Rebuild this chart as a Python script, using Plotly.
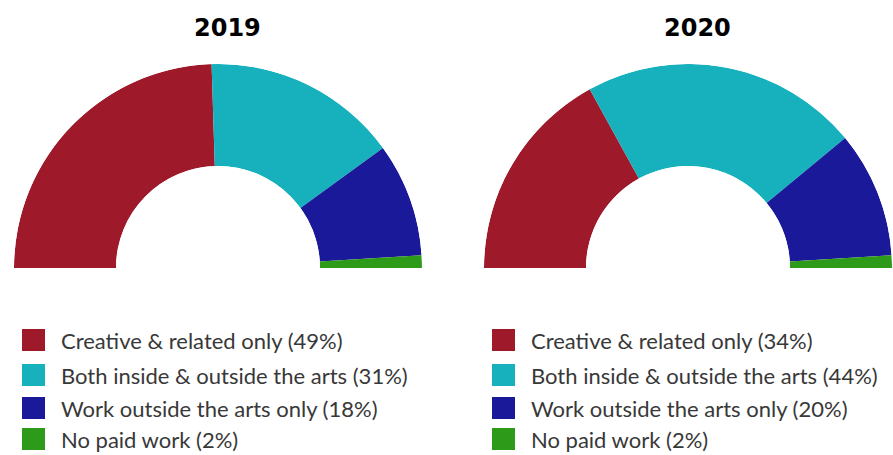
import plotly.graph_objects as go

# Share of respondents by type of paid work
categories = [
    "Creative & related only",
    "Both inside & outside the arts",
    "Work outside the arts only",
    "No paid work",
]
years = ["2019", "2020"]
shares_2019 = [49, 31, 18, 2]
shares_2020 = [34, 44, 20, 2]
colors = ["#9e1a2b", "#17b0bd", "#1a199a", "#2e9a1a"]

W, H = 893, 455
series = [shares_2019, shares_2020]

# half-donut placement (pixels): left edge, right edge, top, baseline
arc_boxes = [(13, 423, 64, 268), (483, 893, 64, 268)]
legend_left = [22, 492]
row_centers = [340, 375, 408, 439]

fig = go.Figure()
layout_polars = {}
annotations = []
shapes = []

for i, (year, vals) in enumerate(zip(years, series)):
    pid = "polar" if i == 0 else f"polar{i + 1}"
    total = sum(vals)
    start = 0.0
    for cat, v, col in zip(categories, vals, colors):
        span = 180.0 * v / total
        fig.add_trace(go.Barpolar(
            r=[1], theta=[start + span / 2], width=[span],
            marker=dict(color=col, line=dict(width=0)),
            name=cat, showlegend=False, subplot=pid,
            hovertemplate=f"{year}<br>{cat}: {v}%<extra></extra>",
        ))
        start += span

    x0, x1, y0, y1 = arc_boxes[i]
    layout_polars[pid] = dict(
        domain=dict(x=[x0 / W, x1 / W], y=[1 - y1 / H, 1 - y0 / H]),
        sector=[0, 180],
        hole=0.5,
        bgcolor="rgba(0,0,0,0)",
        radialaxis=dict(range=[0, 1], visible=False, showgrid=False),
        angularaxis=dict(rotation=180, direction="clockwise",
                         visible=False, showgrid=False),
    )

    # year heading
    annotations.append(dict(
        text=f"<b>{year}</b>", x=(x0 + x1) / 2 / W + 0.011, y=1 - 28 / H,
        xref="paper", yref="paper", showarrow=False,
        xanchor="center", yanchor="middle",
        font=dict(family="DejaVu Sans", size=24, color="#000000"),
    ))

    # legend block
    lx = legend_left[i]
    for cat, v, col, cy in zip(categories, vals, colors, row_centers):
        shapes.append(dict(
            type="rect", xref="paper", yref="paper",
            x0=lx / W, x1=(lx + 23) / W,
            y0=1 - (cy + 11) / H, y1=1 - (cy - 11) / H,
            fillcolor=col, line=dict(width=0),
        ))
        annotations.append(dict(
            text=f"{cat} ({v}%)", x=(lx + 38) / W, y=1 - cy / H,
            xref="paper", yref="paper", showarrow=False,
            xanchor="left", yanchor="middle", borderpad=0,
            font=dict(family="Lato", size=22, color="#383838"),
        ))

fig.update_layout(
    width=W, height=H,
    margin=dict(l=0, r=0, t=0, b=0),
    paper_bgcolor="white",
    plot_bgcolor="white",
    annotations=annotations,
    shapes=shapes,
    **layout_polars,
)

fig.write_html("out.html")
